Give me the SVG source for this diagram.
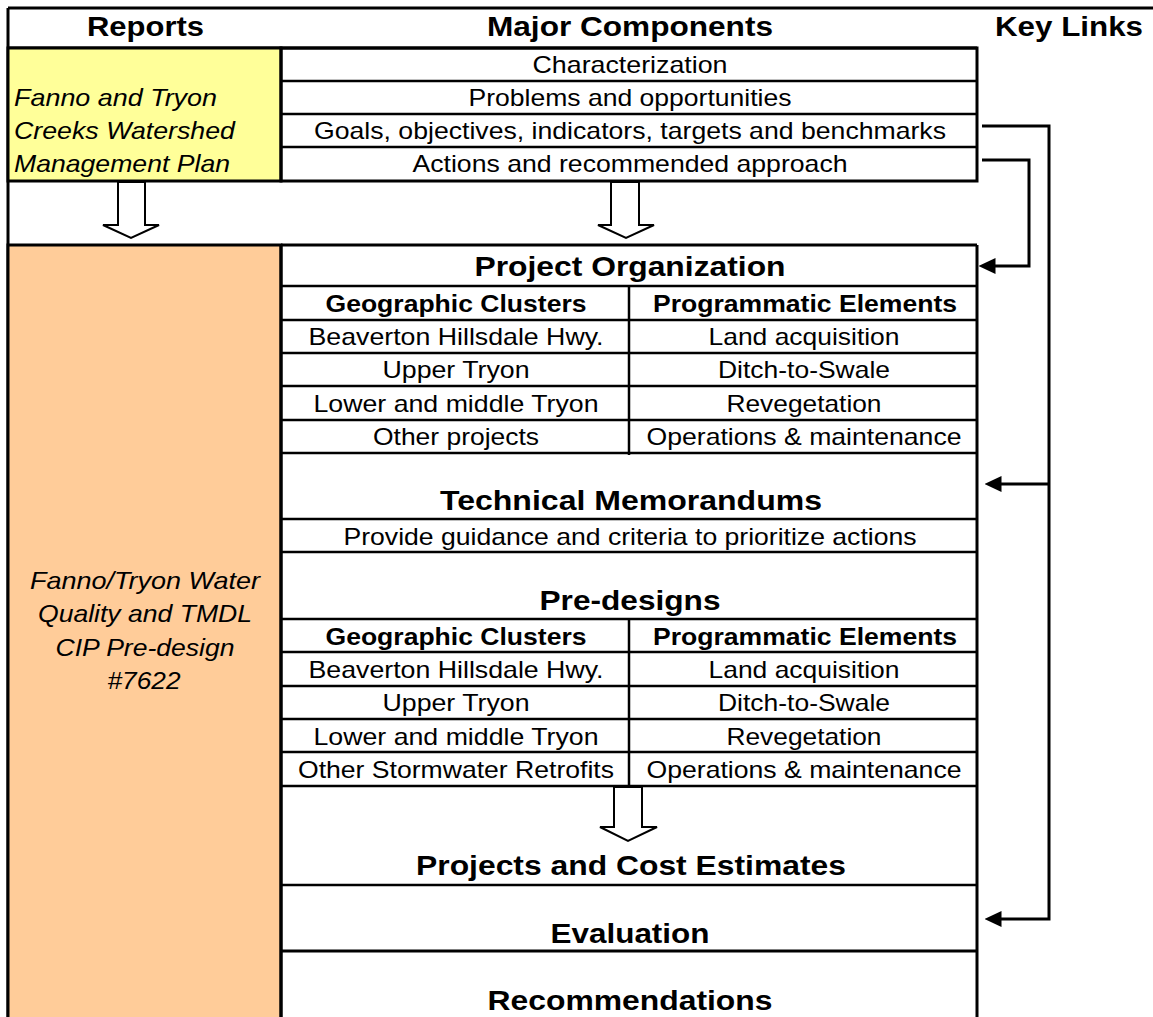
<svg xmlns="http://www.w3.org/2000/svg" width="1153" height="1017" viewBox="0 0 1153 1017">
<style>
text{font-family:"Liberation Sans",Arial,sans-serif;fill:#000;text-anchor:middle;font-size:24px}
.h{font-weight:bold;font-size:28px}
.hb{font-weight:bold}
.it{font-style:italic}
.l{text-anchor:start}
.bx{stroke:#000;stroke-width:3;fill:none}
.yel{fill:#FFFF99;stroke:#000;stroke-width:3}
.org{fill:#FFCC99;stroke:#000;stroke-width:3}
.ln{stroke:#000;stroke-width:3}
.thin{stroke:#000;stroke-width:2.5}
.hollow{fill:#fff;stroke:#000;stroke-width:2}
.link{stroke:#000;stroke-width:3;fill:none}
</style>
<defs>
<marker id="ah" viewBox="0 0 17 16" markerWidth="17" markerHeight="16" refX="0.5" refY="8" orient="auto" markerUnits="userSpaceOnUse">
<path d="M0,0 L17,8 L0,16 Z" fill="#000"/>
</marker>
</defs>
<rect width="1153" height="1017" fill="#fff"/>

<g id="frame">
<line class="ln" x1="8" y1="8" x2="1153" y2="8"/>
<line class="ln" x1="8" y1="8" x2="8" y2="1017"/>
<line class="ln" x1="8" y1="48" x2="977" y2="48"/>
</g>

<g id="headers">
<text class="h" x="145.5" y="36" textLength="117" lengthAdjust="spacingAndGlyphs">Reports</text>
<text class="h" x="630" y="36" textLength="286" lengthAdjust="spacingAndGlyphs">Major Components</text>
<text class="h" x="1069" y="36" textLength="148" lengthAdjust="spacingAndGlyphs">Key Links</text>
</g>

<g id="report-plan">
<rect x="8" y="48" width="273" height="133" class="yel"/>
<text class="it l" x="14" y="106" textLength="203" lengthAdjust="spacingAndGlyphs">Fanno and Tryon</text>
<text class="it l" x="14" y="139" textLength="221" lengthAdjust="spacingAndGlyphs">Creeks Watershed</text>
<text class="it l" x="14" y="172" textLength="216" lengthAdjust="spacingAndGlyphs">Management Plan</text>
</g>

<g id="plan-components">
<rect x="281" y="48" width="696" height="133" class="bx"/>
<line class="thin" x1="281" y1="81" x2="977" y2="81"/>
<line class="thin" x1="281" y1="114" x2="977" y2="114"/>
<line class="thin" x1="281" y1="147" x2="977" y2="147"/>
<text x="630" y="73" textLength="195" lengthAdjust="spacingAndGlyphs">Characterization</text>
<text x="630" y="106" textLength="323" lengthAdjust="spacingAndGlyphs">Problems and opportunities</text>
<text x="630" y="139" textLength="632" lengthAdjust="spacingAndGlyphs">Goals, objectives, indicators, targets and benchmarks</text>
<text x="630" y="172" textLength="435" lengthAdjust="spacingAndGlyphs">Actions and recommended approach</text>
</g>

<g id="flow-arrows">
<polygon class="hollow" points="118,182 145,182 145,225 159,225 131,238 103,225 118,225"/>
<polygon class="hollow" points="611,182 639,182 639,225 654,225 626,238 598,225 611,225"/>
<polygon class="hollow" points="614,787 642,787 642,827 657,827 628,841 600,827 614,827"/>
</g>

<g id="report-cip">
<rect x="8" y="245" width="273" height="780" class="org"/>
<text class="it" x="145" y="589" textLength="230" lengthAdjust="spacingAndGlyphs">Fanno/Tryon Water</text>
<text class="it" x="145" y="622" textLength="214" lengthAdjust="spacingAndGlyphs">Quality and TMDL</text>
<text class="it" x="145" y="656" textLength="179" lengthAdjust="spacingAndGlyphs">CIP Pre-design</text>
<text class="it" x="144" y="689" textLength="73" lengthAdjust="spacingAndGlyphs">#7622</text>
</g>

<g id="cip-components">
<line class="ln" x1="281" y1="245" x2="977" y2="245"/>
<line class="ln" x1="977" y1="245" x2="977" y2="1017"/>
<line class="ln" x1="281" y1="245" x2="281" y2="1017"/>
<line class="thin" x1="281" y1="286" x2="977" y2="286"/>
<line class="thin" x1="281" y1="320" x2="977" y2="320"/>
<line class="thin" x1="281" y1="353" x2="977" y2="353"/>
<line class="thin" x1="281" y1="386" x2="977" y2="386"/>
<line class="thin" x1="281" y1="420" x2="977" y2="420"/>
<line class="thin" x1="281" y1="453" x2="977" y2="453"/>
<line class="thin" x1="629" y1="286" x2="629" y2="455"/>
<line class="thin" x1="281" y1="519" x2="977" y2="519"/>
<line class="thin" x1="281" y1="552" x2="977" y2="552"/>
<line class="thin" x1="281" y1="619" x2="977" y2="619"/>
<line class="thin" x1="281" y1="652" x2="977" y2="652"/>
<line class="thin" x1="281" y1="686" x2="977" y2="686"/>
<line class="thin" x1="281" y1="719" x2="977" y2="719"/>
<line class="thin" x1="281" y1="752" x2="977" y2="752"/>
<line class="thin" x1="281" y1="786" x2="977" y2="786"/>
<line class="thin" x1="629" y1="619" x2="629" y2="786"/>
<line class="thin" x1="281" y1="885" x2="977" y2="885"/>
<line class="ln" x1="281" y1="951" x2="977" y2="951"/>
</g>

<g id="project-organization">
<text class="h" x="630" y="276" textLength="311" lengthAdjust="spacingAndGlyphs">Project Organization</text>
<text class="hb" x="456" y="312" textLength="261" lengthAdjust="spacingAndGlyphs">Geographic Clusters</text>
<text class="hb" x="805" y="312" textLength="304" lengthAdjust="spacingAndGlyphs">Programmatic Elements</text>
<text x="456" y="345" textLength="295" lengthAdjust="spacingAndGlyphs">Beaverton Hillsdale Hwy.</text>
<text x="804" y="345" textLength="191" lengthAdjust="spacingAndGlyphs">Land acquisition</text>
<text x="456" y="378" textLength="147" lengthAdjust="spacingAndGlyphs">Upper Tryon</text>
<text x="804" y="378" textLength="172" lengthAdjust="spacingAndGlyphs">Ditch-to-Swale</text>
<text x="456" y="412" textLength="285" lengthAdjust="spacingAndGlyphs">Lower and middle Tryon</text>
<text x="804" y="412" textLength="155" lengthAdjust="spacingAndGlyphs">Revegetation</text>
<text x="456" y="445" textLength="166" lengthAdjust="spacingAndGlyphs">Other projects</text>
<text x="804" y="445" textLength="315" lengthAdjust="spacingAndGlyphs">Operations &amp; maintenance</text>
</g>

<g id="technical-memorandums">
<text class="h" x="631" y="510" textLength="382" lengthAdjust="spacingAndGlyphs">Technical Memorandums</text>
<text x="630" y="545" textLength="573" lengthAdjust="spacingAndGlyphs">Provide guidance and criteria to prioritize actions</text>
</g>

<g id="pre-designs">
<text class="h" x="630" y="610" textLength="181" lengthAdjust="spacingAndGlyphs">Pre-designs</text>
<text class="hb" x="456" y="645" textLength="261" lengthAdjust="spacingAndGlyphs">Geographic Clusters</text>
<text class="hb" x="805" y="645" textLength="304" lengthAdjust="spacingAndGlyphs">Programmatic Elements</text>
<text x="456" y="678" textLength="295" lengthAdjust="spacingAndGlyphs">Beaverton Hillsdale Hwy.</text>
<text x="804" y="678" textLength="191" lengthAdjust="spacingAndGlyphs">Land acquisition</text>
<text x="456" y="711" textLength="147" lengthAdjust="spacingAndGlyphs">Upper Tryon</text>
<text x="804" y="711" textLength="172" lengthAdjust="spacingAndGlyphs">Ditch-to-Swale</text>
<text x="456" y="745" textLength="285" lengthAdjust="spacingAndGlyphs">Lower and middle Tryon</text>
<text x="804" y="745" textLength="155" lengthAdjust="spacingAndGlyphs">Revegetation</text>
<text x="456" y="778" textLength="316" lengthAdjust="spacingAndGlyphs">Other Stormwater Retrofits</text>
<text x="804" y="778" textLength="315" lengthAdjust="spacingAndGlyphs">Operations &amp; maintenance</text>
</g>

<g id="projects-cost">
<text class="h" x="631" y="875" textLength="430" lengthAdjust="spacingAndGlyphs">Projects and Cost Estimates</text>
</g>
<g id="evaluation">
<text class="h" x="630" y="943" textLength="159" lengthAdjust="spacingAndGlyphs">Evaluation</text>
</g>
<g id="recommendations">
<text class="h" x="630" y="1010" textLength="285" lengthAdjust="spacingAndGlyphs">Recommendations</text>
</g>

<g id="connectors">
<path class="link" d="M982,160 H1029 V266 H995" marker-end="url(#ah)"/>
<path class="link" d="M982,126 H1049 V919 H1001" marker-end="url(#ah)"/>
<path class="link" d="M1049,484 H1001" marker-end="url(#ah)"/>
</g>
</svg>
